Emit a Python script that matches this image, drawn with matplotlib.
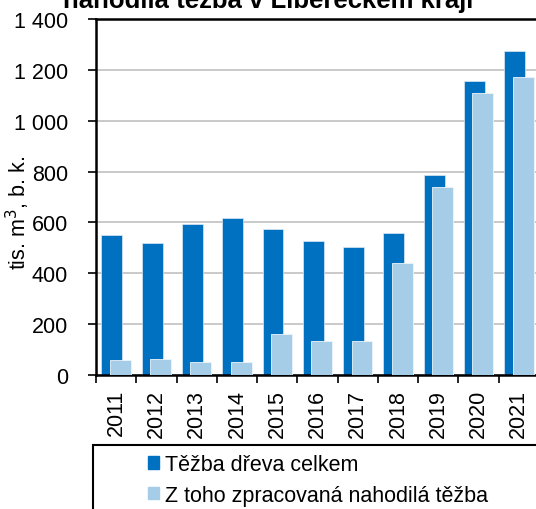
import matplotlib
matplotlib.use("Agg")
import matplotlib.pyplot as plt
from matplotlib.patches import Patch, Rectangle
from matplotlib.ticker import FuncFormatter
import numpy as np

plt.rcParams['font.family'] = ['Liberation Sans', 'DejaVu Sans']

years = ["2011", "2012", "2013", "2014", "2015", "2016", "2017", "2018", "2019", "2020", "2021"]
tezba_celkem = [549, 518, 592, 619, 575, 526, 502, 557, 786, 1155, 1274]
nahodila = [58, 63, 50, 51, 161, 132, 134, 439, 738, 1110, 1172]

dark = "#0070C0"
light = "#A6CDE8"
fs = 15.5

fig = plt.figure(figsize=(5.36, 5.10), dpi=100)
ax = fig.add_axes([96/536, 134/510, 443/536, 356/510])

x = np.arange(len(years))
ax.bar(x - 0.105, tezba_celkem, width=0.52, color=dark, edgecolor="#dbe9f5", linewidth=0.5, zorder=2)
ax.bar(x + 0.105, nahodila, width=0.52, color=light, edgecolor="#eef5fb", linewidth=0.6, zorder=3)

ax.set_xlim(-0.5, len(years) - 0.5)
ax.set_ylim(0, 1400)
ax.set_yticks(range(0, 1401, 200))
ax.yaxis.set_major_formatter(FuncFormatter(lambda v, p: f"{int(v):,}".replace(",", " ")))
ax.yaxis.grid(True, color="#C0C0C0", linewidth=1.2, zorder=0)
ax.set_axisbelow(True)

ax.set_xticks(np.arange(len(years) + 1) - 0.5)
ax.set_xticklabels([])
ax.set_xticks(x, minor=True)
ax.set_xticklabels(years, minor=True, rotation=90, fontsize=fs)
ax.tick_params(axis="x", which="minor", length=0, pad=10)
ax.tick_params(axis="x", which="major", length=6, width=1.2, direction="out")
ax.tick_params(axis="y", length=6, width=1.2, pad=14, labelsize=fs)

for s in ["left", "bottom", "top"]:
    ax.spines[s].set_linewidth(1.8)
ax.spines["right"].set_visible(False)

ax.set_ylabel("tis. m$^3$, b. k.", fontsize=fs)
ax.yaxis.set_label_coords(-64/443, 0.458)

fig.text(0.5, 1 - 8/510, "nahodilá těžba v Libereckém kraji", ha="center", va="baseline",
         fontsize=18.5, fontweight="bold")

fig.patches.append(Rectangle((93/536, -0.05), 0.9, (510 - 446)/510 + 0.05, transform=fig.transFigure,
                             fill=False, edgecolor="black", linewidth=1.5))
handles = [Patch(color=dark, label="Těžba dřeva celkem"),
           Patch(color=light, label="Z toho zpracovaná nahodilá těžba")]
fig.legend(handles=handles, loc="upper left", bbox_to_anchor=(148/536, 1 - 455/510), frameon=False,
           fontsize=fs, handlelength=0.52, handleheight=0.52, handletextpad=0.25, labelspacing=0.45,
           borderpad=0, borderaxespad=0)

fig.savefig("out.png", dpi=100)
